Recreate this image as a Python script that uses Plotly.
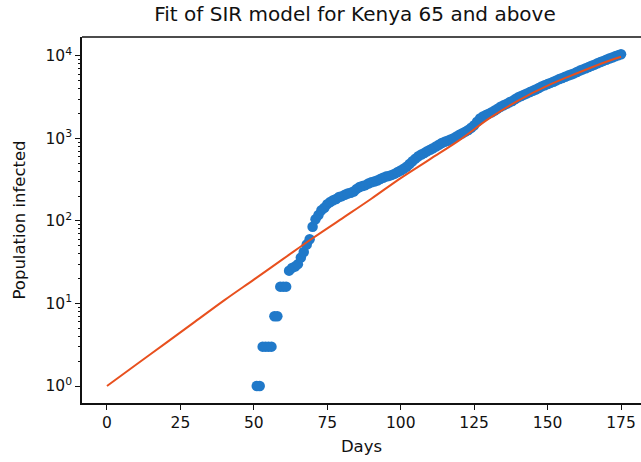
import plotly.graph_objects as go

# Observed data (days since start, population infected)
days_obs = list(range(51, 176))
infected_obs = [
    1, 1, 3, 3, 3, 3, 7, 7, 16, 16,
    16, 25, 27, 28, 30, 36, 42, 52, 60, 85,
    105, 118, 135, 145, 160, 170, 178, 185, 195, 200,
    208, 215, 220, 228, 245, 258, 265, 272, 285, 295,
    300, 310, 322, 335, 345, 352, 362, 375, 392, 410,
    430, 455, 490, 530, 570, 610, 640, 665, 700, 730,
    760, 800, 840, 880, 910, 940, 975, 1010, 1060, 1110,
    1160, 1210, 1270, 1350, 1450, 1600, 1750, 1850, 1920, 2000,
    2080, 2180, 2300, 2420, 2520, 2620, 2740, 2850, 3000, 3150,
    3270, 3400, 3520, 3650, 3780, 3920, 4100, 4280, 4420, 4560,
    4720, 4880, 5060, 5250, 5420, 5600, 5780, 5950, 6150, 6400,
    6650, 6880, 7100, 7350, 7600, 7850, 8150, 8450, 8720, 9000,
    9300, 9600, 9900, 10200, 10500,
]

# SIR fit curve
days_fit = [0, 10, 20, 30, 40, 50, 60, 70, 80, 90, 100, 110, 120, 130, 140, 150, 160, 170, 175]
infected_fit = [1, 1.82, 3.31, 6.03, 11.0, 19.5, 34.7, 61.7, 107, 186, 331, 562, 955, 1740, 2880, 4370, 6170, 8510, 9770]

ytick_vals = [1, 10, 100, 1000, 10000]
ytick_text = ["10<sup>0</sup>", "10<sup>1</sup>", "10<sup>2</sup>", "10<sup>3</sup>", "10<sup>4</sup>"]
ytick_minor = [m * d for d in [1, 10, 100, 1000, 10000] for m in range(2, 10)]
xtick_vals = [0, 25, 50, 75, 100, 125, 150, 175]

fig = go.Figure()
fig.add_trace(go.Scatter(
    x=days_obs, y=infected_obs, mode="markers",
    marker=dict(size=10.5, color="#2079c9", line=dict(width=0)),
    showlegend=False,
))
fig.add_trace(go.Scatter(
    x=days_fit, y=infected_fit, mode="lines",
    line=dict(color="#e8501e", width=2, shape="spline"),
    showlegend=False,
))

fig.update_layout(
    width=641, height=462,
    margin=dict(l=82, r=0, t=37, b=59, autoexpand=False),
    paper_bgcolor="white", plot_bgcolor="white",
    font=dict(family="DejaVu Sans", size=16, color="#111"),
    title=dict(text="Fit of SIR model for Kenya 65 and above", x=355/641, xanchor="center",
               xref="container", y=1-14/462, yanchor="middle", yref="container",
               automargin=False,
               font=dict(size=20, family="DejaVu Sans", color="#111")),
    xaxis=dict(range=[-8.5, 181.8], tickvals=xtick_vals, showgrid=False, zeroline=False,
               automargin=False,
               showline=True, linecolor="#111", linewidth=1.5, ticks="outside", ticklen=5,
               tickcolor="#111", tickfont=dict(size=15.5),
               title=dict(text="Days", font=dict(size=16.5), standoff=9)),
    yaxis=dict(type="log", range=[-0.206, 4.23], tickvals=ytick_vals, ticktext=ytick_text,
               automargin=False,
               showgrid=False, zeroline=False, showline=True, linecolor="#111", linewidth=1.5,
               ticks="outside", ticklen=5, tickcolor="#111", tickfont=dict(size=15.5),
               minor=dict(tickvals=ytick_minor, ticks="outside", ticklen=2.5, tickwidth=1,
                          tickcolor="#111", showgrid=False),
               title=dict(text="Population infected", font=dict(size=16.5), standoff=16)),
    shapes=[dict(type="line", xref="paper", yref="paper", x0=0, x1=1, y0=1, y1=1,
                 line=dict(color="#111", width=1.5))],
)

fig.write_html("out.html", config={"displayModeBar": False},
               post_script="document.body.style.margin='0';")
